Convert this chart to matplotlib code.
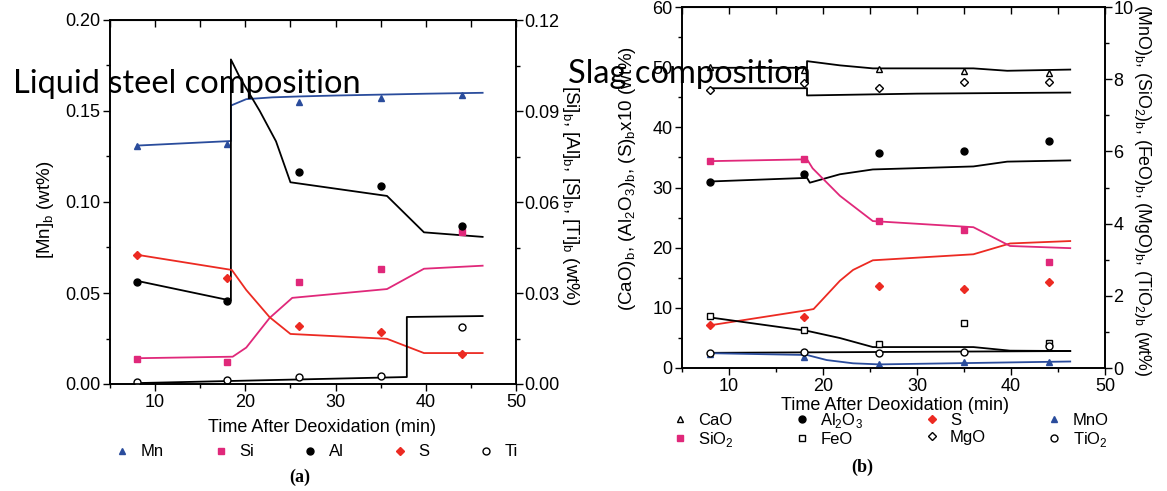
import matplotlib
matplotlib.use("Agg")
import matplotlib.pyplot as plt
import numpy as np
from matplotlib.lines import Line2D
from matplotlib.ticker import MultipleLocator

plt.rcParams['font.family'] = ['Liberation Sans', 'DejaVu Sans']
plt.rcParams['mathtext.fontset'] = 'custom'
plt.rcParams['mathtext.rm'] = 'Liberation Sans'

# ---- data, panel (a): liquid steel ----
t_obs = [8, 18, 26, 35, 44]
mn_obs = [0.131, 0.132, 0.155, 0.157, 0.159]
si_obs = [0.0083, 0.0073, 0.0337, 0.038, 0.050]
al_obs = [0.0336, 0.0274, 0.070, 0.0653, 0.052]
s_obs = [0.0426, 0.035, 0.0191, 0.0172, 0.0099]
ti_obs = [0.0007, 0.0013, 0.0023, 0.0026, 0.0188]

mn_t = [8, 18.4, 18.4, 20.1, 23, 26, 30, 35, 40, 46.3]
mn_v = [0.131, 0.1335, 0.153, 0.1565, 0.1575, 0.158, 0.1585, 0.159, 0.1595, 0.160]
al_t = [8, 18.4, 18.4, 19.4, 21.6, 23.4, 25, 35.7, 39.8, 46.3]
al_v = [0.034, 0.0275, 0.107, 0.101, 0.090, 0.080, 0.0665, 0.062, 0.050, 0.0485]
si_t = [8, 18.6, 20.1, 22.7, 25.2, 35.7, 39.8, 46.3]
si_v = [0.0085, 0.009, 0.012, 0.0218, 0.0284, 0.0313, 0.038, 0.039]
s_t = [8, 18.5, 20.1, 22.7, 25, 35.7, 39.8, 46.3]
s_v = [0.0426, 0.0376, 0.031, 0.022, 0.0165, 0.0149, 0.0102, 0.0102]
ti_t = [8, 37.9, 37.9, 46.3]
ti_v = [0.0003, 0.0023, 0.0221, 0.0224]

# ---- data, panel (b): slag ----
cao_obs = [50.0, 49.6, 49.7, 49.3, 49.0]
al2o3_obs = [30.9, 32.2, 35.7, 36.1, 37.7]
s10_obs = [7.1, 8.5, 13.6, 13.1, 14.3]
mno_obs = [0.38, 0.30, 0.10, 0.16, 0.18]
sio2_obs = [5.73, 5.80, 4.07, 3.82, 2.93]
feo_obs = [1.43, 1.05, 0.66, 1.25, 0.69]
mgo_obs = [7.70, 7.89, 7.77, 7.92, 7.92]
tio2_obs = [0.41, 0.44, 0.41, 0.44, 0.61]

cao_t = [8, 18.3, 18.3, 21.8, 25.3, 36, 39.6, 46.3]
cao_v = [49.9, 49.9, 51.0, 50.3, 49.8, 49.8, 49.4, 49.6]
al2o3_t = [8, 18.3, 18.6, 21.8, 25.3, 36, 39.6, 46.3]
al2o3_v = [31.0, 31.6, 30.8, 32.2, 33.0, 33.5, 34.3, 34.5]
s10_t = [8, 18.3, 19, 21.8, 23.2, 25.3, 36, 39.9, 46.3]
s10_v = [7.1, 9.6, 9.8, 14.5, 16.3, 17.9, 18.9, 20.7, 21.1]
mgo_t = [8, 18.3, 18.3, 30, 46.3]
mgo_v = [7.75, 7.75, 7.55, 7.60, 7.63]
sio2_t = [8, 18.3, 18.9, 21.8, 25.3, 36, 39.9, 46.3]
sio2_v = [5.73, 5.78, 5.53, 4.77, 4.07, 3.90, 3.38, 3.32]
feo_t = [8, 18.3, 21.8, 25.3, 36, 39.9, 46.3]
feo_v = [1.40, 1.03, 0.83, 0.58, 0.58, 0.48, 0.47]
tio2_t = [8, 46.3]
tio2_v = [0.42, 0.47]
mno_t = [8, 18.3, 20.4, 23.2, 26, 46.3]
mno_v = [0.41, 0.36, 0.22, 0.13, 0.10, 0.18]

blue = '#2a4c9c'
pink = '#e0287a'
red = '#ec2a22'
W, H = 1167, 491

fig = plt.figure(figsize=(W / 100, H / 100), dpi=100)


def px(x, y):
    return x / W, 1 - y / H


def style(ax, right=False):
    for sp in ax.spines.values():
        sp.set_linewidth(1.2)
    ax.tick_params(which='both', direction='out', labelsize=13, width=1, pad=2)
    ax.tick_params(which='major', length=5)
    ax.tick_params(which='minor', length=3)
    if right:
        ax.tick_params(which='both', left=False, labelleft=False, pad=1)
    else:
        ax.tick_params(which='both', top=False, right=False)


def top_ticks(ax):
    sec = ax.secondary_xaxis('top')
    sec.set_xticks(np.arange(5, 51, 5))
    sec.tick_params(direction='in', length=5, width=1, labeltop=False)


# ---------------- panel (a) ----------------
axa = fig.add_axes([110 / W, 107 / H, 406 / W, 364 / H])
axa2 = axa.twinx()
axa.set_xlim(5, 50)
axa.set_ylim(0, 0.20)
axa2.set_ylim(0, 0.12)
axa.xaxis.set_major_locator(MultipleLocator(10))
axa.xaxis.set_minor_locator(MultipleLocator(5))
axa.yaxis.set_major_locator(MultipleLocator(0.05))
axa.yaxis.set_minor_locator(MultipleLocator(0.025))
axa2.yaxis.set_major_locator(MultipleLocator(0.03))
axa2.yaxis.set_minor_locator(MultipleLocator(0.015))
axa.yaxis.set_major_formatter('{x:.2f}')
axa2.yaxis.set_major_formatter('{x:.2f}')
style(axa)
style(axa2, right=True)
top_ticks(axa)

lw = 1.3
axa.plot(mn_t, mn_v, color=blue, lw=lw)
axa2.plot(al_t, al_v, color='black', lw=lw)
axa2.plot(si_t, si_v, color=pink, lw=lw)
axa2.plot(s_t, s_v, color=red, lw=lw)
axa2.plot(ti_t, ti_v, color='black', lw=lw)

axa.plot(t_obs, mn_obs, '^', color=blue, ms=5, ls='none')
axa2.plot(t_obs, si_obs, 's', color=pink, ms=4.5, ls='none')
axa2.plot(t_obs, al_obs, 'o', color='black', ms=5, ls='none')
axa2.plot(t_obs, s_obs, 'D', color=red, ms=4.5, ls='none')
axa2.plot(t_obs, ti_obs, 'o', mfc='white', mec='black', ms=5, ls='none')

# ---------------- panel (b) ----------------
axb = fig.add_axes([682 / W, 123 / H, 423 / W, 361 / H])
axb2 = axb.twinx()
axb.set_xlim(5, 50)
axb.set_ylim(0, 60)
axb2.set_ylim(0, 10)
axb.xaxis.set_major_locator(MultipleLocator(10))
axb.xaxis.set_minor_locator(MultipleLocator(5))
axb.yaxis.set_major_locator(MultipleLocator(10))
axb.yaxis.set_minor_locator(MultipleLocator(5))
axb2.yaxis.set_major_locator(MultipleLocator(2))
axb2.yaxis.set_minor_locator(MultipleLocator(1))
style(axb)
style(axb2, right=True)
top_ticks(axb)

axb.plot(cao_t, cao_v, color='black', lw=lw)
axb.plot(al2o3_t, al2o3_v, color='black', lw=lw)
axb.plot(s10_t, s10_v, color=red, lw=lw)
axb2.plot(mgo_t, mgo_v, color='black', lw=lw)
axb2.plot(sio2_t, sio2_v, color=pink, lw=lw)
axb2.plot(feo_t, feo_v, color='black', lw=lw)
axb2.plot(tio2_t, tio2_v, color='black', lw=lw)
axb2.plot(mno_t, mno_v, color=blue, lw=lw)

axb.plot(t_obs, cao_obs, '^', mfc='white', mec='black', ms=5, ls='none')
axb.plot(t_obs, al2o3_obs, 'o', color='black', ms=5, ls='none')
axb.plot(t_obs, s10_obs, 'D', color=red, ms=4.5, ls='none')
axb2.plot(t_obs, mno_obs, '^', color=blue, ms=5, ls='none')
axb2.plot(t_obs, sio2_obs, 's', color=pink, ms=4.5, ls='none')
axb2.plot(t_obs, feo_obs, 's', mfc='white', mec='black', ms=4.5, ls='none')
axb2.plot(t_obs, mgo_obs, 'D', mfc='white', mec='black', ms=4, ls='none')
axb2.plot(t_obs, tio2_obs, 'o', mfc='white', mec='black', ms=5, ls='none')

# ---------------- axis labels ----------------
lab = dict(fontsize=13.5, ha='center', va='center')
fig.text(*px(45, 210), r'[Mn]$_\mathregular{b}$ (wt%)', rotation=90, **lab)
fig.text(*px(570, 195),
         r'[Si]$_\mathregular{b}$, [Al]$_\mathregular{b}$, [S]$_\mathregular{b}$, [Ti]$_\mathregular{b}$ (wt%)',
         rotation=270, **lab)
fig.text(*px(628, 178),
         r'(CaO)$_\mathregular{b}$, (Al$_\mathregular{2}$O$_\mathregular{3}$)$_\mathregular{b}$, (S)$_\mathregular{b}$x10 (wt%)',
         rotation=90, **lab)
fig.text(*px(1143, 190),
         r'(MnO)$_\mathregular{b}$, (SiO$_\mathregular{2}$)$_\mathregular{b}$, (FeO)$_\mathregular{b}$, '
         r'(MgO)$_\mathregular{b}$, (TiO$_\mathregular{2}$)$_\mathregular{b}$ (wt%)',
         rotation=270, fontsize=12.8, ha='center', va='center')
fig.text(*px(322, 427), 'Time After Deoxidation (min)', fontsize=13, ha='center', va='center')
fig.text(*px(895, 405), 'Time After Deoxidation (min)', fontsize=13, ha='center', va='center')

fig.text(*px(300, 477), '(a)', fontsize=13, fontweight='bold', family='Liberation Serif',
         ha='center', va='center')
fig.text(*px(862, 467), '(b)', fontsize=13, fontweight='bold', family='Liberation Serif',
         ha='center', va='center')

# ---------------- legends ----------------
def mk(marker, color, filled=True, ms=5):
    return Line2D([], [], marker=marker, ls='none', ms=ms,
                  mfc=color if filled else 'white', mec=color)


h_a = [mk('^', blue), mk('s', pink, ms=4.5), mk('o', 'black'), mk('D', red, ms=4.5),
       mk('o', 'black', False)]
l_a = ['Mn', 'Si', 'Al', 'S', 'Ti']
fig.legend(h_a, l_a, loc='center', bbox_to_anchor=px(316, 452), ncol=5, frameon=False,
           fontsize=12, handlelength=1, handletextpad=0.6, columnspacing=2.9)

h_b = [mk('^', 'black', False), mk('s', pink, ms=4.5), mk('o', 'black'), mk('s', 'black', False, 4.5),
       mk('D', red, ms=4.5), mk('D', 'black', False, 4), mk('^', blue), mk('o', 'black', False)]
l_b = ['CaO', r'SiO$_\mathregular{2}$', r'Al$_\mathregular{2}$O$_\mathregular{3}$', 'FeO',
       'S', 'MgO', 'MnO', r'TiO$_\mathregular{2}$']
fig.legend(h_b, l_b, loc='center', bbox_to_anchor=px(890, 430), ncol=4, frameon=False,
           fontsize=12, handlelength=1, handletextpad=0.6, columnspacing=3.6,
           labelspacing=0.1)

# ---------------- overlay captions ----------------
fig.text(*px(13, 93), 'Liquid steel composition', fontsize=23.5, family='Lato',
         ha='left', va='baseline')
fig.text(*px(568, 83), 'Slag composition', fontsize=23.5, family='Lato',
         ha='left', va='baseline')

fig.savefig('out.png', dpi=100)
